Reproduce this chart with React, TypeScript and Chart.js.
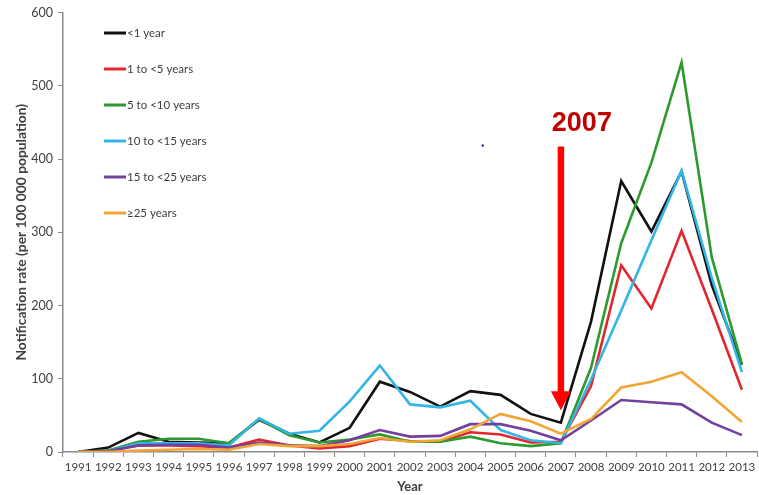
import React, { useEffect, useRef } from "react";
import { Chart, registerables } from "chart.js";

Chart.register(...registerables);

const years = [
  "1991", "1992", "1993", "1994", "1995", "1996", "1997", "1998", "1999", "2000", "2001", "2002",
  "2003", "2004", "2005", "2006", "2007", "2008", "2009", "2010", "2011", "2012", "2013",
];

const seriesLabels = ["<1 year", "1 to <5 years", "5 to <10 years", "10 to <15 years", "15 to <25 years", "≥25 years"];

const under1 = [0, 6, 26, 14, 13, 12, 44, 25, 13, 33, 96, 82, 62, 83, 78, 52, 40, 178, 370, 301, 383, 228, 119];
const age1to5 = [0, 2, 9, 9, 8, 6, 17, 9, 5, 8, 18, 15, 14, 27, 24, 13, 14, 90, 255, 196, 302, 195, 85];
const age5to10 = [0, 2, 14, 18, 18, 12, 45, 23, 13, 17, 24, 14, 14, 21, 12, 8, 12, 115, 285, 395, 532, 266, 120];
const age10to15 = [0, 1, 12, 12, 12, 9, 46, 25, 29, 69, 118, 65, 61, 70, 30, 16, 12, 99, 193, 289, 384, 238, 109];
const age15to25 = [0, 1, 9, 10, 10, 6, 13, 9, 8, 16, 30, 21, 22, 38, 38, 29, 16, 43, 71, 68, 65, 40, 23];
const age25plus = [0, 0, 2, 3, 4, 3, 11, 8, 8, 11, 19, 14, 16, 31, 52, 42, 25, 45, 88, 96, 109, 76, 41];

const seriesValues = [under1, age1to5, age5to10, age10to15, age15to25, age25plus];
const seriesColors = ["#111111", "#e3262e", "#2c9a2f", "#33b5e5", "#7340a0", "#f3a533"];

// Marker for the 2007 change
const markerYear = "2007";
const markerTop = 417;
const markerTip = 57;

const axisGray = "#8a8a8a";
const textGray = "#404040";
const font = "Lato, 'Open Sans', sans-serif";

const legendPlugin = {
  id: "insideLegend",
  afterDatasetsDraw(chart: any) {
    const ctx = chart.ctx;
    ctx.save();
    chart.data.datasets.forEach((ds: any, i: number) => {
      const y = 33 + i * 36;
      ctx.strokeStyle = ds.borderColor;
      ctx.lineWidth = 3;
      ctx.beginPath();
      ctx.moveTo(104, y);
      ctx.lineTo(126, y);
      ctx.stroke();
      ctx.fillStyle = textGray;
      ctx.font = `11.5px ${font}`;
      ctx.textBaseline = "middle";
      ctx.textAlign = "left";
      ctx.fillText(ds.label, 127, y + 0.5);
    });
    ctx.restore();
  },
};

const markerPlugin = {
  id: "yearMarker",
  afterDatasetsDraw(chart: any) {
    const ctx = chart.ctx;
    const xs = chart.scales.x;
    const ys = chart.scales.y;
    const x = xs.getPixelForValue(years.indexOf(markerYear));
    const yTop = ys.getPixelForValue(markerTop);
    const yTip = ys.getPixelForValue(markerTip);
    const headLen = 19;
    ctx.save();
    ctx.fillStyle = "#ff0000";
    ctx.fillRect(x - 3.2, yTop, 6.5, yTip - headLen - yTop + 1);
    ctx.beginPath();
    ctx.moveTo(x - 10, yTip - headLen);
    ctx.lineTo(x + 10, yTip - headLen);
    ctx.lineTo(x, yTip);
    ctx.closePath();
    ctx.fill();
    ctx.fillStyle = "#c00000";
    ctx.font = "bold 27px 'Liberation Sans', Arial, sans-serif";
    ctx.textAlign = "center";
    ctx.textBaseline = "alphabetic";
    ctx.fillText(markerYear, x + 21, yTop - 16);
    // small stray blue dot
    ctx.fillStyle = "#2020c0";
    ctx.beginPath();
    ctx.arc(xs.getPixelForValue(13.41), ys.getPixelForValue(418.5), 1.2, 0, Math.PI * 2);
    ctx.fill();
    ctx.restore();
  },
};

export default function App() {
  const canvasRef = useRef<HTMLCanvasElement | null>(null);

  useEffect(() => {
    document.body.style.margin = "0";
    const canvas = canvasRef.current;
    if (!canvas) return;
    const n = seriesValues.length;
    const chart = new Chart(canvas, {
      type: "line",
      data: {
        labels: years,
        datasets: seriesValues.map((vals, i) => ({
          label: seriesLabels[i],
          data: vals,
          borderColor: seriesColors[i],
          backgroundColor: seriesColors[i],
          borderWidth: 2.6,
          pointRadius: 0,
          tension: 0,
          order: n - 1 - i,
        })),
      },
      options: {
        animation: false,
        responsive: false,
        maintainAspectRatio: false,
        layout: { padding: { top: 12, right: 2, left: 0, bottom: 0 } },
        plugins: {
          legend: { display: false },
          tooltip: { enabled: false },
        },
        scales: {
          x: {
            type: "category",
            offset: true,
            grid: {
              offset: true,
              drawOnChartArea: false,
              drawTicks: true,
              tickLength: 5,
              color: axisGray,
            },
            border: { color: axisGray, width: 1.5 },
            ticks: {
              color: textGray,
              font: { family: font, size: 11.5 },
              padding: 3,
              maxRotation: 0,
              autoSkip: false,
            },
            title: {
              display: true,
              text: "Year",
              color: textGray,
              font: { family: font, size: 13, weight: "bold" },
              padding: { top: 0, bottom: 0 },
            },
            afterFit: (s: any) => {
              s.height = 43;
            },
          },
          y: {
            min: 0,
            max: 600,
            ticks: {
              stepSize: 100,
              color: textGray,
              font: { family: font, size: 12.5 },
              padding: 5,
            },
            grid: {
              drawOnChartArea: false,
              drawTicks: true,
              tickLength: 5,
              color: axisGray,
            },
            border: { color: axisGray, width: 1.5 },
            title: {
              display: true,
              text: "Notification rate (per 100 000 population)",
              color: textGray,
              font: { family: font, size: 13.8, weight: "bold" },
              padding: { top: 13, bottom: 0 },
            },
            afterFit: (s: any) => {
              s.width = 63;
            },
          },
        },
      },
      plugins: [legendPlugin, markerPlugin],
    });
    return () => chart.destroy();
  }, []);

  return (
    <div style={{ width: 759, height: 495, background: "#ffffff" }}>
      <canvas ref={canvasRef} width={759} height={495} style={{ display: "block" }} />
    </div>
  );
}
